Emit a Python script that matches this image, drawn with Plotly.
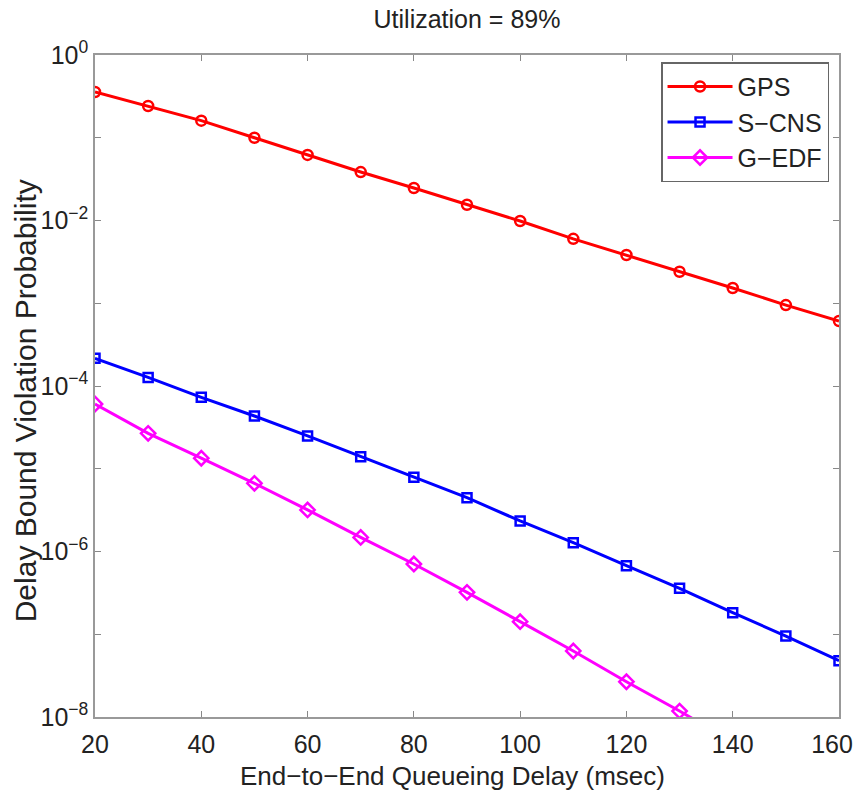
import plotly.graph_objects as go

delay = [20, 30, 40, 50, 60, 70, 80, 90, 100, 110, 120, 130, 140, 150, 160]
gps = [0.357, 0.242, 0.161, 0.100, 0.062, 0.0385, 0.0247, 0.0155, 0.00986, 0.0060,
       0.00383, 0.0024, 0.00153, 0.00095, 0.00061]
scns = [2.16e-4, 1.27e-4, 7.3e-5, 4.34e-5, 2.49e-5, 1.4e-5, 7.9e-6, 4.47e-6, 2.34e-6,
        1.28e-6, 6.75e-7, 3.59e-7, 1.82e-7, 9.5e-8, 4.79e-8]
gedf_x = [20, 30, 40, 50, 60, 70, 80, 90, 100, 110, 120, 130, 140]
gedf = [6.06e-5, 2.68e-5, 1.34e-5, 6.67e-6, 3.18e-6, 1.48e-6, 7.06e-7, 3.21e-7, 1.42e-7,
        6.28e-8, 2.67e-8, 1.18e-8, 5.0e-9]

ytickvals = [1e0, 1e-1, 1e-2, 1e-3, 1e-4, 1e-5, 1e-6, 1e-7, 1e-8]
yticktext = ["10<sup>0</sup>", "", "10<sup>−2</sup>", "", "10<sup>−4</sup>", "",
             "10<sup>−6</sup>", "", "10<sup>−8</sup>"]
xtickvals = [20, 40, 60, 80, 100, 120, 140, 160]
# last label padded with non-breaking spaces so it stays inside the page edge
xticktext = ["20", "40", "60", "80", "100", "120", "140", "160\u00a0\u00a0"]

title_text = "Utilization = 89%"
xlabel = "End−to−End Queueing Delay (msec)"
ylabel = "Delay Bound Violation Probability"

fig = go.Figure()
fig.add_trace(go.Scatter(x=delay, y=gps, name="GPS", mode="lines+markers",
                         line=dict(color="#ff0000", width=3),
                         marker=dict(symbol="circle-open", size=10, color="#ff0000",
                                     line=dict(width=2.5, color="#ff0000"))))
fig.add_trace(go.Scatter(x=delay, y=scns, name="S−CNS", mode="lines+markers",
                         line=dict(color="#0000ff", width=3),
                         marker=dict(symbol="square-open", size=9, color="#0000ff",
                                     line=dict(width=2.5, color="#0000ff"))))
fig.add_trace(go.Scatter(x=gedf_x, y=gedf, name="G−EDF", mode="lines+markers",
                         line=dict(color="#ff00ff", width=3),
                         marker=dict(symbol="diamond-open", size=11, color="#ff00ff",
                                     line=dict(width=2.5, color="#ff00ff"))))

font_family = "Liberation Sans, Arial, sans-serif"
fig.update_layout(
    width=845, height=782,
    margin=dict(l=87, r=14, t=47, b=73, autoexpand=False),
    paper_bgcolor="white", plot_bgcolor="white",
    font=dict(family=font_family, color="#222222", size=25),
    title=dict(text=title_text, x=0.5, xanchor="center", xref="paper",
               y=0.986, yanchor="middle", font=dict(size=25, color="#222222")),
    showlegend=True,
    legend=dict(x=0.9866, y=0.989, xanchor="right", yanchor="top",
                bgcolor="white", bordercolor="#666666", borderwidth=1.5,
                font=dict(size=25, color="#222222"), itemwidth=65,
                tracegroupgap=0),
    xaxis=dict(range=[20, 160], tickvals=xtickvals, ticktext=xticktext,
               ticks="inside", ticklen=6,
               tickcolor="#888888", showline=True, linecolor="#999999", linewidth=1.5,
               mirror="ticks", showgrid=False, zeroline=False, automargin=False,
               ticklabelstandoff=4, ticklabeloverflow="allow",
               tickfont=dict(size=25, color="#222222")),
    yaxis=dict(type="log", range=[-8, 0], tickvals=ytickvals, ticktext=yticktext,
               ticks="inside", ticklen=6, tickcolor="#888888", showline=True,
               linecolor="#999999", linewidth=1.5, mirror="ticks", showgrid=False,
               zeroline=False, automargin=False, ticklabeloverflow="allow",
               tickfont=dict(size=25, color="#222222")),
    annotations=[
        dict(text=xlabel, xref="paper", yref="paper", x=0.481, y=-0.089,
             xanchor="center", yanchor="middle", showarrow=False,
             font=dict(size=26, color="#222222")),
        dict(text=ylabel, xref="paper", yref="paper", x=-0.094, y=0.477,
             xanchor="center", yanchor="middle", textangle=-90, showarrow=False,
             font=dict(size=30, color="#222222")),
    ],
)

fig.write_html("out.html")
